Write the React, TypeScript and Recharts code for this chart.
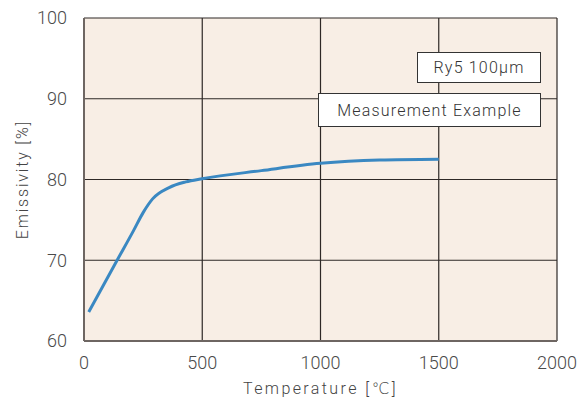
import { LineChart, Line, XAxis, YAxis, CartesianGrid } from "recharts";

const temperatures = [20, 140, 210, 250, 290, 360, 430, 500, 750, 1000, 1250, 1500];
const emissivity = [63.6, 70.0, 73.7, 75.9, 77.6, 79.0, 79.7, 80.1, 81.1, 82.0, 82.4, 82.5];
const xTicks = [0, 500, 1000, 1500, 2000];
const yTicks = [60, 70, 80, 90, 100];
const notes = ["Ry5 100\u03bcm", "Measurement Example"];

const data = temperatures.map((t, i) => ({ t, e: emissivity[i] }));

const font = "Roboto, 'DejaVu Sans', sans-serif";

function YTitle({ viewBox }: any) {
  const cy = viewBox.y + viewBox.height / 2;
  return (
    <text
      x={22}
      y={cy}
      transform={`rotate(-90 22 ${cy})`}
      textAnchor="middle"
      dominantBaseline="central"
      fill="#444"
      fontSize={16}
      fontFamily={font}
      fontWeight={300}
      letterSpacing={1.8}
    >
      Emissivity [%]
    </text>
  );
}

function XTitle({ viewBox }: any) {
  return (
    <text
      x={viewBox.x + viewBox.width / 2}
      y={388}
      textAnchor="middle"
      dominantBaseline="central"
      fill="#444"
      fontSize={16}
      fontFamily={font}
      fontWeight={300}
      letterSpacing={2.4}
    >
      Temperature [℃]
    </text>
  );
}

export default function App() {
  const tick = { fill: "#4a4a4a", fontSize: 18, fontFamily: font, fontWeight: 300 };
  const boxStyle: React.CSSProperties = {
    position: "absolute",
    background: "#fff",
    border: "1px solid #333",
    boxSizing: "border-box",
    fontFamily: font,
    fontWeight: 300,
    fontSize: 16,
    color: "#333",
    letterSpacing: 1.2,
    display: "flex",
    alignItems: "center",
    justifyContent: "center",
  };
  return (
    <div style={{ position: "absolute", left: 0, top: 0, width: 584, height: 401, background: "#fff" }}>
      <LineChart
        width={584}
        height={401}
        data={data}
        margin={{ top: 18, right: 27, bottom: 0, left: 24 }}
      >
        <CartesianGrid
          stroke="#2e2826"
          strokeWidth={1.2}
          fill="#f8eee5"
          horizontalValues={yTicks}
          verticalValues={xTicks}
        />
        <XAxis
          dataKey="t"
          type="number"
          domain={[0, 2000]}
          ticks={xTicks}
          tick={tick}
          tickLine={false}
          axisLine={{ stroke: "#6e6662", strokeWidth: 2 }}
          tickMargin={9}
          height={60}
          label={<XTitle />}
        />
        <YAxis
          type="number"
          domain={[60, 100]}
          ticks={yTicks}
          tick={tick}
          tickLine={false}
          axisLine={{ stroke: "#6e6662", strokeWidth: 2 }}
          tickMargin={11}
          width={60}
          label={<YTitle />}
        />
        <Line
          dataKey="e"
          type="monotone"
          stroke="#3a88c2"
          strokeWidth={3}
          dot={false}
          isAnimationActive={false}
        />
      </LineChart>
      <div style={{ ...boxStyle, left: 417, top: 52, width: 124, height: 31 }}>{notes[0]}</div>
      <div style={{ ...boxStyle, left: 318, top: 93, width: 223, height: 34 }}>{notes[1]}</div>
    </div>
  );
}
